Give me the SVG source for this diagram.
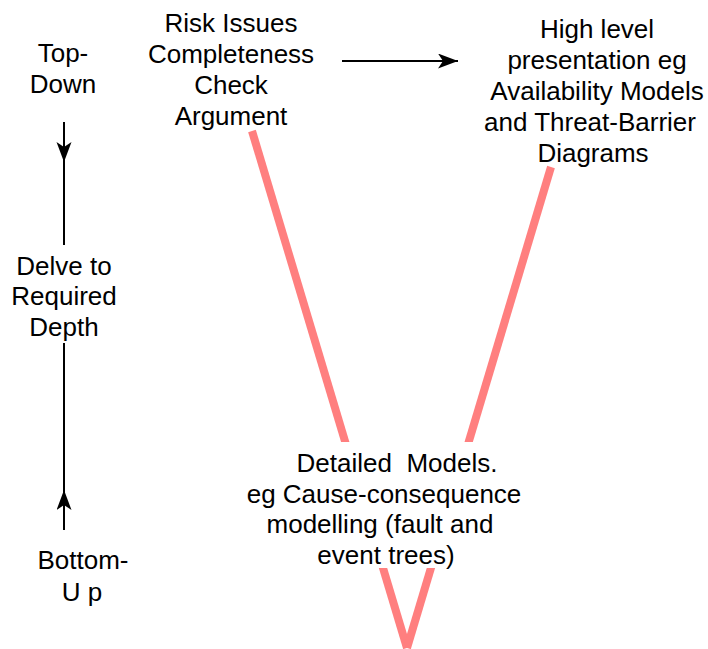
<svg xmlns="http://www.w3.org/2000/svg" width="708" height="649" viewBox="0 0 708 649">
  <style>
    text { font-family: "Liberation Sans", Arial, sans-serif; font-size: 26px; fill: #000; text-anchor: middle; }
    .rail { stroke: #000; stroke-width: 2; fill: none; }
    .vee { stroke: #FF7F7F; stroke-width: 8; fill: none; stroke-linecap: butt; }
  </style>
  <defs>
    <marker id="arrow" markerUnits="userSpaceOnUse" markerWidth="22" markerHeight="16" refX="20" refY="7.5" orient="auto">
      <path d="M0,0 L20,7.5 L0,15 L5,7.5 Z" fill="#000"/>
    </marker>
  </defs>

  <rect width="708" height="649" fill="#fff"/>

  <!-- connectors: the V of pink lines and the black arrows -->
  <g id="connectors">
    <line class="vee" x1="252" y1="131" x2="407" y2="648"/>
    <line class="vee" x1="551" y1="167" x2="407" y2="648"/>
    <line class="rail" x1="342" y1="61" x2="458" y2="61" marker-end="url(#arrow)"/>
    <line class="rail" x1="64" y1="122" x2="64" y2="162" marker-end="url(#arrow)"/>
    <line class="rail" x1="64" y1="160" x2="64" y2="245"/>
    <line class="rail" x1="64" y1="530" x2="64" y2="490" marker-end="url(#arrow)"/>
    <line class="rail" x1="64" y1="493" x2="64" y2="343"/>
  </g>

  <g id="top-down">
    <text x="63" y="62">Top-</text>
    <text x="63" y="93">Down</text>
  </g>

  <g id="delve">
    <text x="64" y="275">Delve to</text>
    <text x="64" y="305">Required</text>
    <text x="64" y="336">Depth</text>
  </g>

  <g id="bottom-up">
    <text x="83" y="569">Bottom-</text>
    <text x="82" y="601" xml:space="preserve">U p</text>
  </g>

  <g id="risk-issues">
    <text x="231" y="32">Risk Issues</text>
    <text x="231" y="63">Completeness</text>
    <text x="231" y="94">Check</text>
    <text x="231" y="125">Argument</text>
  </g>

  <g id="high-level">
    <text x="597" y="38">High level</text>
    <text x="597" y="69">presentation eg</text>
    <text x="597" y="100">Availability Models</text>
    <text x="590" y="131">and Threat-Barrier</text>
    <text x="593" y="162">Diagrams</text>
  </g>

  <g id="detailed-models">
    <rect x="240" y="442" width="290" height="126" fill="#fff"/>
    <text x="397" y="472" xml:space="preserve">Detailed  Models.</text>
    <text x="384" y="503">eg Cause-consequence</text>
    <text x="380" y="533">modelling (fault and</text>
    <text x="386" y="564">event trees)</text>
  </g>
</svg>
